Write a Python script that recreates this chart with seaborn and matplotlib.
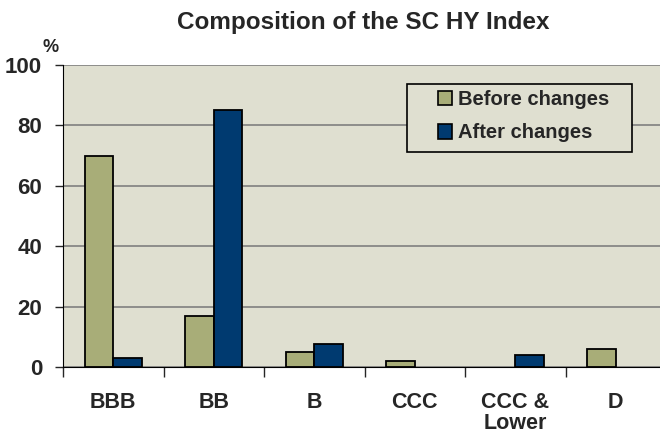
import matplotlib
matplotlib.use("Agg")
import matplotlib.pyplot as plt
from matplotlib.patches import Patch, Rectangle
import seaborn as sns
import pandas as pd
import numpy as np

# === data ===
ratings = ["BBB", "BB", "B", "CCC", "CCC &\nLower", "D"]
before = [70, 17, 5, 2, 0, 6]
after = [3, 85, 7.7, 0, 4, 0]
series = ["Before changes", "After changes"]
y_ticks = [0, 20, 40, 60, 80, 100]

df = pd.DataFrame({
    "Rating": ratings * 2,
    "Share": before + after,
    "Series": [series[0]] * len(ratings) + [series[1]] * len(ratings),
})

sns.set_style("white")
plt.rcParams["font.family"] = ["Liberation Sans", "DejaVu Sans"]
plt.rcParams["font.weight"] = "bold"

fig = plt.figure(figsize=(6.6, 4.42), dpi=100)
# plot area runs slightly past the right edge, as in the original
ax = fig.add_axes([63 / 660, 1 - 367 / 442, 603 / 660, 302 / 442])
ax.set_facecolor("#DFDFD0")

colors = {"Before changes": "#A8AD78", "After changes": "#003A70"}
sns.barplot(data=df, x="Rating", y="Share", hue="Series", palette=colors,
            width=0.57, gap=0, edgecolor="black", linewidth=1.3,
            saturation=1, ax=ax, zorder=3, legend=False)

# empty categories have no bar at all in the original
for p in ax.patches:
    if p.get_height() == 0:
        p.set_visible(False)

ax.set_xlim(-0.5, 5.5)
ax.set_ylim(0, 100)
ax.set_yticks(y_ticks)
ax.yaxis.grid(True, color="#7F7F7F", linewidth=1.2, zorder=0)
ax.set_axisbelow(True)

for s in ["top", "right"]:
    ax.spines[s].set_visible(False)
ax.spines["left"].set_color("black")
ax.spines["bottom"].set_color("black")

ax.tick_params(axis="y", length=6, width=1, pad=9, labelsize=16, left=True)
ax.tick_params(axis="x", which="major", length=0, pad=18, labelsize=15.5)
ax.set_xticks(np.arange(-0.5, 5.5, 1), minor=True)
ax.tick_params(axis="x", which="minor", length=7, width=1, bottom=True)
for lbl in ax.get_yticklabels() + ax.get_xticklabels():
    lbl.set_fontweight("bold")
for lbl in ax.get_xticklabels():
    lbl.set_linespacing(0.98)

ax.set_xlabel("")
ax.set_ylabel("")

# legend frame drawn as a plain box, entries placed inside it
frame = Rectangle((344 / 603, (367 - 152) / 302), 225 / 603, 68 / 302,
                  transform=ax.transAxes, facecolor="#DFDFD0",
                  edgecolor="black", linewidth=1.2, zorder=4)
ax.add_patch(frame)
handles = [Patch(facecolor=colors[s], edgecolor="black", linewidth=1.2) for s in series]
leg = ax.legend(handles, series, loc="upper left",
                bbox_to_anchor=((438 - 63) / 603, (367 - 90) / 302),
                frameon=False, prop={"weight": "bold", "size": 14.5},
                handlelength=0.7, handleheight=0.7, handletextpad=0.3,
                borderpad=0, labelspacing=0.72, borderaxespad=0)
leg.set_zorder(5)

fig.text(363 / 660, 1 - 29 / 442, "Composition of the SC HY Index",
         ha="center", va="baseline", fontsize=17.5, fontweight="bold")
fig.text(51 / 660, 1 - 52 / 442, "%", ha="center", va="baseline",
         fontsize=13, fontweight="bold")

fig.savefig("out.png", dpi=100)
